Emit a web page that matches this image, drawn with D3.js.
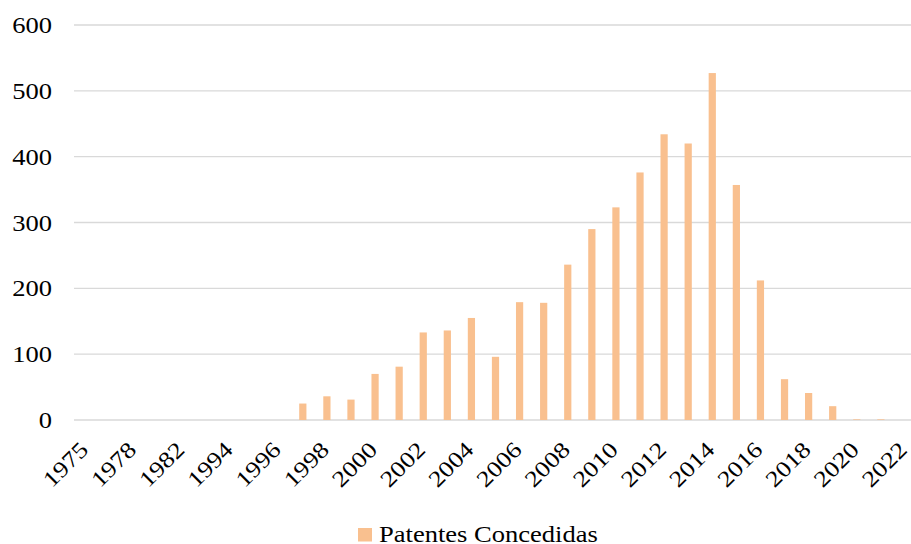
<!DOCTYPE html>
<html><head><meta charset="utf-8">
<script src="https://cdn.jsdelivr.net/npm/d3@7"></script>
<style>body{margin:0;background:#fff}svg{display:block}text{font-family:"Liberation Serif","Times New Roman",serif;fill:#000}</style>
</head><body>
<svg id="c" width="911" height="544"></svg>
<script>
const years = ["1975","1977","1978","1981","1982","1993","1994","1995","1996","1997","1998","1999","2000","2001","2002","2003","2004","2005","2006","2007","2008","2009","2010","2011","2012","2013","2014","2015","2016","2017","2018","2019","2020","2021","2022"];
const patentes = [0,0,0,0,0,0,0,0,0,25,36,31,70,81,133,136,155,96,179,178,236,290,323,376,434,420,527,357,212,62,41,21,1,1,0];
const yTicks = [0,100,200,300,400,500,600];
const seriesName = "Patentes Concedidas";

const svg = d3.select("#c");
const x = d3.scaleBand().domain(years).range([74, 917]).paddingInner(0.7).paddingOuter(0.35);
const y = d3.scaleLinear().domain([0, 600]).range([420, 25]);
const color = "#F9C08F";
const FS = 22.5, SX = 1.18;

// gridlines
svg.append("g").selectAll("line").data(yTicks).join("line")
  .attr("x1", 74).attr("x2", 911)
  .attr("y1", d => y(d)).attr("y2", d => y(d))
  .attr("stroke", "#d9d9d9").attr("stroke-width", 1.3);

// y axis labels
const yAxis = d3.axisLeft(y).tickValues(yTicks).tickSize(0).tickPadding(0);
const ya = svg.append("g").attr("transform", "translate(52,0)").call(yAxis);
ya.select(".domain").remove();
ya.attr("font-family", null);
ya.selectAll("text").attr("font-size", FS).attr("x", 0).attr("dy", "0.34em")
  .attr("transform", `scale(${SX},1)`);

// bars
svg.append("g").selectAll("rect").data(years).join("rect")
  .attr("x", d => x(d))
  .attr("width", x.bandwidth())
  .attr("y", (d, i) => y(patentes[i]))
  .attr("height", (d, i) => y(0) - y(patentes[i]))
  .attr("fill", color);

// x axis labels (every other)
const xAxis = d3.axisBottom(x).tickValues(years.filter((d, i) => i % 2 === 0)).tickSize(0).tickPadding(0);
const xa = svg.append("g").attr("transform", "translate(0,420)").call(xAxis);
xa.select(".domain").remove();
xa.attr("font-family", null);
xa.selectAll("text")
  .attr("font-size", FS)
  .attr("text-anchor", "end")
  .attr("y", 0).attr("dy", 0)
  .attr("transform", `translate(3.5,31) rotate(-45) scale(${SX},1)`);

// legend
const lg = svg.append("g").attr("transform", "translate(358,528)");
lg.append("rect").attr("width", 14).attr("height", 13.5).attr("fill", color);
lg.append("text").attr("transform", `translate(21,13.5) scale(${SX},1)`).attr("font-size", FS).text(seriesName);
</script>
</body></html>
